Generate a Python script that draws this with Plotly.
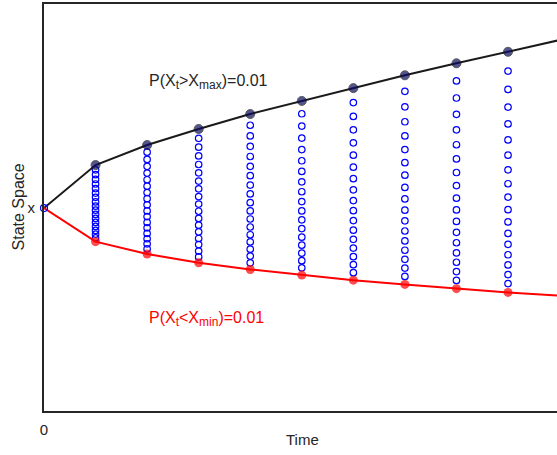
import plotly.graph_objects as go

# ---------------- data ----------------
time_steps = [0, 1, 2, 3, 4, 5, 6, 7, 8, 9, 10]
upper_bound = [100.0, 116.1, 123.6, 129.6, 135.2, 140.1, 144.9, 149.7, 154.2, 158.5, 162.9]
lower_bound = [100.0, 87.4, 82.8, 79.5, 77.0, 74.9, 73.0, 71.4, 69.8, 68.4, 67.2]

grid_t1 = [88.8, 90.2, 91.6, 93.1, 94.6, 96.1, 97.6, 99.2, 100.7, 102.3, 104.0, 105.6, 107.3, 109.0, 110.7, 112.5, 114.3]
grid_t2 = [84.7, 86.6, 88.5, 90.5, 92.6, 94.6, 96.8, 98.9, 101.2, 103.5, 105.8, 108.2, 110.6, 113.1, 115.6, 118.2, 120.9]
grid_t3 = [81.7, 83.9, 86.3, 88.6, 91.1, 93.6, 96.1, 98.8, 101.5, 104.3, 107.2, 110.1, 113.2, 116.3, 119.5, 122.8, 126.1]
grid_t4 = [79.5, 82.0, 84.6, 87.3, 90.0, 92.9, 95.9, 98.9, 102.0, 105.3, 108.6, 112.1, 115.6, 119.3, 123.1, 127.0, 131.0]
grid_t5 = [77.6, 80.3, 83.1, 86.1, 89.1, 92.3, 95.6, 98.9, 102.4, 106.1, 109.8, 113.7, 117.7, 121.9, 126.2, 130.7, 135.3]
grid_t6 = [75.8, 78.8, 81.8, 85.0, 88.3, 91.7, 95.3, 99.0, 102.8, 106.8, 111.0, 115.3, 119.8, 124.4, 129.3, 134.3, 139.5]
grid_t7 = [74.4, 77.5, 80.8, 84.2, 87.7, 91.4, 95.2, 99.2, 103.4, 107.7, 112.3, 117.0, 121.9, 127.0, 132.3, 137.9, 143.7]
grid_t8 = [72.9, 76.2, 79.7, 83.2, 87.0, 90.9, 95.0, 99.3, 103.7, 108.4, 113.3, 118.4, 123.7, 129.3, 135.1, 141.2, 147.6]
grid_t9 = [71.7, 75.1, 78.7, 82.5, 86.4, 90.5, 94.8, 99.4, 104.1, 109.1, 114.3, 119.8, 125.5, 131.5, 137.8, 144.4, 151.3]
grid_t10 = [70.6, 74.2, 77.9, 81.8, 86.0, 90.3, 94.8, 99.6, 104.6, 109.9, 115.5, 121.3, 127.4, 133.8, 140.6, 147.6, 155.1]

grid_columns = [grid_t1, grid_t2, grid_t3, grid_t4, grid_t5,
                grid_t6, grid_t7, grid_t8, grid_t9, grid_t10]

x0_value = 100.0
x_tick_vals = [0]
x_tick_text = ["0"]
y_tick_vals = [100.0]
y_tick_text = ["x"]

# ---------------- figure ----------------
FONT = "Liberation Sans, Arial, Helvetica, sans-serif"
AXIS_COLOR = "#262626"

grid_x, grid_y = [], []
for t, col in zip(time_steps[1:], grid_columns):
    grid_x.extend([t] * len(col))
    grid_y.extend(col)

fig = go.Figure()

fig.add_trace(go.Scatter(
    x=grid_x, y=grid_y, mode="markers",
    marker=dict(symbol="circle-open", size=6.5, color="#0000ff", line=dict(width=1.2, color="#0000ff")),
    hoverinfo="skip", showlegend=False, cliponaxis=False,
))

marker_sizes = [0] + [9] * (len(time_steps) - 1)

fig.add_trace(go.Scatter(
    x=time_steps, y=upper_bound, mode="lines+markers",
    line=dict(color="#1a1a1a", width=2),
    marker=dict(size=marker_sizes, color="#0c0c60", line=dict(width=1, color="#141414")),
    showlegend=False, cliponaxis=False,
))

fig.add_trace(go.Scatter(
    x=time_steps, y=lower_bound, mode="lines+markers",
    line=dict(color="#ff0000", width=2),
    marker=dict(size=marker_sizes, color="#ff0000", line=dict(width=0)),
    showlegend=False, cliponaxis=False,
))

fig.add_trace(go.Scatter(
    x=[time_steps[0]], y=[x0_value], mode="markers",
    marker=dict(symbol="circle-open", size=7, color="#0000ff", line=dict(width=1.2, color="#0000ff")),
    showlegend=False, cliponaxis=False,
))

SUB = '<sub><span style="font-size:12px">{}</span></sub>'

fig.add_annotation(
    x=2.0, y=147.2, xref="x", yref="y", xanchor="left", yanchor="middle",
    text="P(X" + SUB.format("t") + "&gt;X" + SUB.format("max") + ")=0.01", showarrow=False,
    font=dict(family=FONT, size=16, color="#262626"),
)
fig.add_annotation(
    x=2.0, y=58.5, xref="x", yref="y", xanchor="left", yanchor="middle",
    text="P(X" + SUB.format("t") + "&lt;X" + SUB.format("min") + ")=0.01", showarrow=False,
    font=dict(family=FONT, size=16, color="#ff0000"),
)
# axis titles
fig.add_annotation(
    x=0.503, y=-0.071, xref="paper", yref="paper", xanchor="center", yanchor="middle",
    text="Time", showarrow=False, font=dict(family=FONT, size=15, color=AXIS_COLOR),
)
fig.add_annotation(
    x=-0.0507, y=0.5025, xref="paper", yref="paper", xanchor="center", yanchor="middle",
    text="State Space", textangle=-90, showarrow=False,
    font=dict(family=FONT, size=16, color=AXIS_COLOR),
)
fig.add_annotation(
    x=10, y=-0.0344, xref="x", yref="paper", xanchor="center", yanchor="middle",
    text="T", showarrow=False, font=dict(family=FONT, size=15, color=AXIS_COLOR),
)

fig.update_layout(
    width=557, height=455,
    margin=dict(l=44, r=0, t=4, b=44, pad=0),
    paper_bgcolor="white", plot_bgcolor="white",
    font=dict(family=FONT, size=15, color=AXIS_COLOR),
    showlegend=False,
)
fig.update_xaxes(
    range=[0, 9.95], showgrid=False, zeroline=False,
    showline=True, linewidth=2, linecolor=AXIS_COLOR, mirror=True,
    tickmode="array", tickvals=x_tick_vals, ticktext=x_tick_text, ticks="",
    tickfont=dict(family=FONT, size=15, color=AXIS_COLOR),
    ticklabelstandoff=4,
)
fig.update_yaxes(
    range=[24.0, 176.4], showgrid=False, zeroline=False,
    showline=True, linewidth=2, linecolor=AXIS_COLOR, mirror=False,
    tickmode="array", tickvals=y_tick_vals, ticktext=y_tick_text, ticks="",
    tickfont=dict(family=FONT, size=15, color=AXIS_COLOR),
    ticklabelstandoff=4,
)

fig.write_html(
    "out.html",
    config={"displayModeBar": False},
    post_script="document.body.style.margin='0';document.body.style.overflow='hidden';",
)
